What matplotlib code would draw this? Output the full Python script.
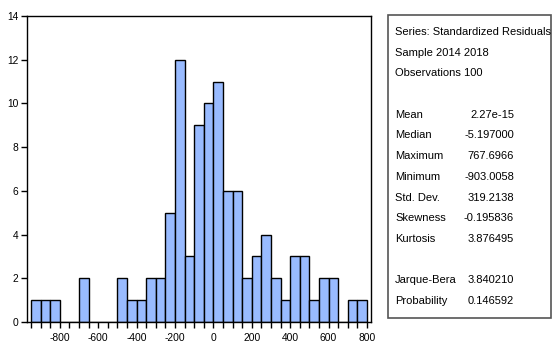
import numpy as np
import matplotlib.pyplot as plt
from matplotlib import font_manager
from matplotlib.ticker import MultipleLocator

# histogram of residuals: bin edges every 50 from -950 to 800
bin_edges = list(range(-950, 801, 50))
counts = [1, 1, 1, 0, 0, 2, 0, 0, 0, 2, 1, 1, 2, 2, 5, 12, 3, 9, 10, 11,
          6, 6, 2, 3, 4, 2, 1, 3, 3, 1, 2, 2, 0, 1, 1]

stat_labels = ['Mean', 'Median', 'Maximum', 'Minimum', 'Std. Dev.',
               'Skewness', 'Kurtosis', '', 'Jarque-Bera', 'Probability']
stat_values = ['2.27e-15', '-5.197000', '767.6966', '-903.0058', '319.2138',
               '-0.195836', '3.876495', '', '3.840210', '0.146592']
header_lines = ['Series: Standardized Residuals', 'Sample 2014 2018',
                'Observations 100']

# the original uses a narrow sans; use one if it is installed
names = {f.name for f in font_manager.fontManager.ttflist}
if 'Liberation Sans Narrow' in names:
    plt.rcParams['font.family'] = ['Liberation Sans Narrow', 'DejaVu Sans']
    fs, tfs = 9.5, 8.5
else:
    plt.rcParams['font.family'] = ['Liberation Sans', 'DejaVu Sans']
    fs, tfs = 8.0, 7.4
plt.rcParams['axes.unicode_minus'] = False

fig = plt.figure(figsize=(5.52, 3.45), dpi=100)
W, H = 552, 345
ax = fig.add_axes([27 / W, 1 - 322 / H, (371 - 27) / W, (322 - 16) / H])

lefts = np.array(bin_edges[:-1])
ax.bar(lefts, counts, width=50, align='edge', color='#99BBFF',
       edgecolor='black', linewidth=1.0)

ax.set_xlim(-971, 821)
ax.set_ylim(0, 14)
ax.set_yticks(range(0, 15, 2))
ax.set_xticks(range(-800, 801, 200))
ax.xaxis.set_minor_locator(MultipleLocator(50))
ax.tick_params(axis='both', which='major', direction='out', length=4,
               width=1, labelsize=tfs, pad=2, color='black')
ax.tick_params(axis='x', which='major', pad=4)
ax.tick_params(axis='x', which='minor', direction='out', length=4, width=1)
for s in ax.spines.values():
    s.set_linewidth(1.0)

# statistics box
box = plt.Rectangle((388 / W, 1 - 318 / H), (551 - 388) / W, (318 - 15) / H,
                    transform=fig.transFigure, fill=False, edgecolor='#555555',
                    linewidth=1.2)
fig.add_artist(box)

step = 20.7
for i, line in enumerate(header_lines):
    fig.text(395 / W, 1 - (32 + i * step) / H, line, fontsize=fs,
             va='center', ha='left')
for i, (lab, val) in enumerate(zip(stat_labels, stat_values)):
    if not lab:
        continue
    y = 1 - (32 + (i + 4) * step) / H
    fig.text(395 / W, y, lab, fontsize=fs, va='center', ha='left')
    fig.text(514 / W, y, val, fontsize=fs, va='center', ha='right')

fig.savefig('out.png', dpi=100)
